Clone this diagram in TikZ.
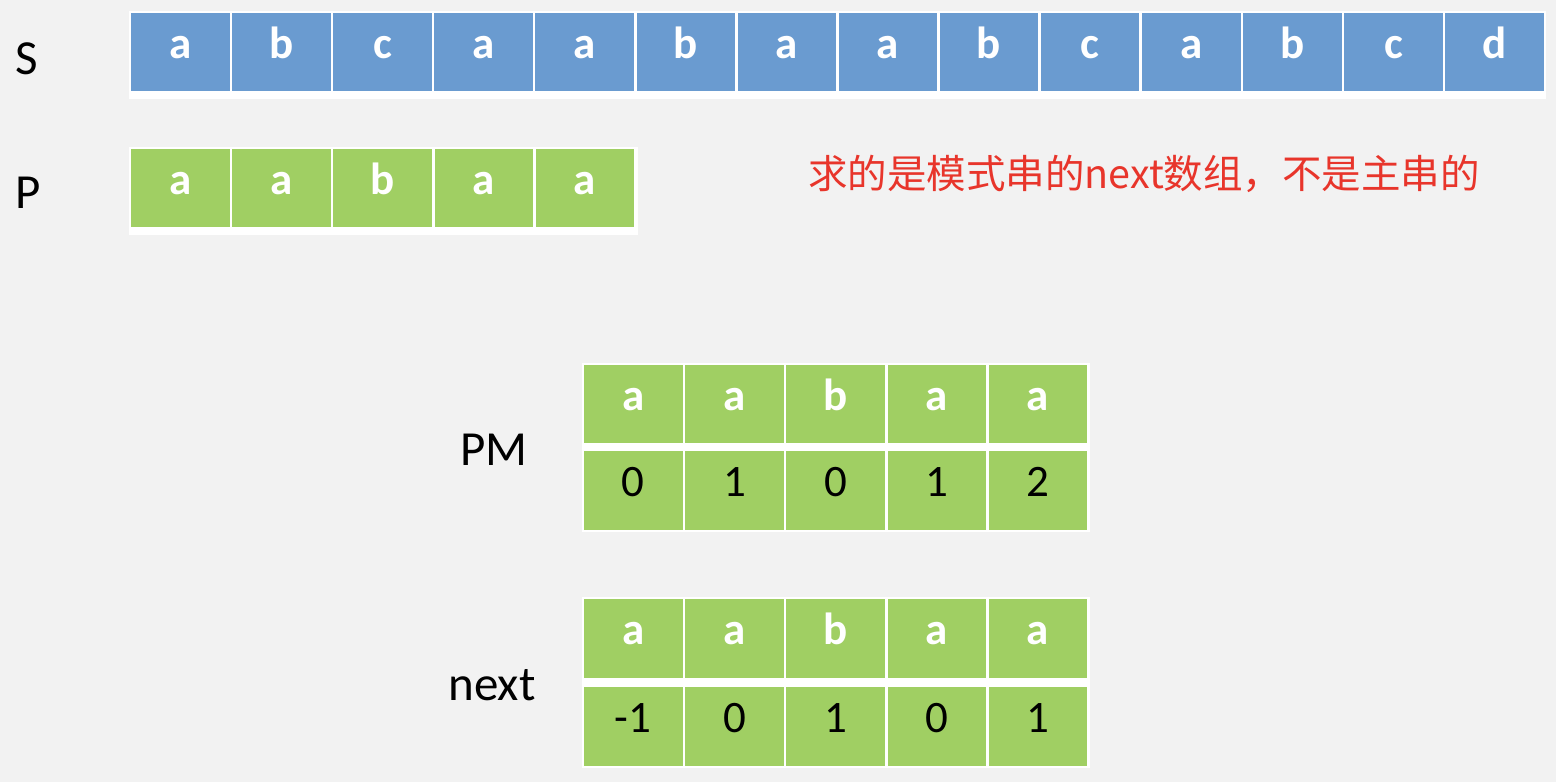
\documentclass[tikz,border=0pt]{standalone}
\usepackage{fontspec}
\setmainfont{Carlito}
\newfontfamily\cjk{Noto Sans CJK SC}
\definecolor{bg}{HTML}{F2F2F2}
\definecolor{sblue}{HTML}{6A9BD0}
\definecolor{pgreen}{HTML}{A0CF63}
\definecolor{redtxt}{HTML}{E8352B}
\begin{document}
\begin{tikzpicture}[x=1pt,y=-1pt,
  cell/.style={rectangle, inner sep=0pt, minimum width=98.5pt, minimum height=78.5pt,
    text height=22pt, text depth=10pt},
  scell/.style={cell, fill=sblue, text=white, font=\fontsize{45}{46}\selectfont\bfseries},
  gcell/.style={cell, fill=pgreen, text=white, font=\fontsize{45}{46}\selectfont\bfseries},
  ncell/.style={cell, fill=pgreen, text=black, font=\fontsize{45}{46}\selectfont},
  lbl/.style={anchor=base, inner sep=0pt, font=\fontsize{49}{50}\selectfont},
  backing/.style={fill=white}]
\useasboundingbox (0,0) rectangle (1556,782);
\fill[bg] (0,0) rectangle (1556,782);
% S row
\fill[backing] (129,11) rectangle (1546,99);
\foreach \c [count=\i] in {a,b,c,a,a,b,a,a,b,c,a,b,c,d}
  \node[scell] (s\i) at ({131+49.25+101.1*(\i-1)},52) {\c};
% P row
\fill[backing] (129,147) rectangle (638,235);
\foreach \c [count=\i] in {a,a,b,a,a}
  \node[gcell] (p\i) at ({131+49.25+101.2*(\i-1)},188) {\c};
% PM table
\fill[backing] (582,363) rectangle (1090,532);
\foreach \c [count=\i] in {a,a,b,a,a}
  \node[gcell] (pma\i) at ({584+49.25+101.2*(\i-1)},404) {\c};
\foreach \c [count=\i] in {0,1,0,1,2}
  \node[ncell] (pmb\i) at ({584+49.25+101.2*(\i-1)},490.5) {\c};
% next table
\fill[backing] (582,597) rectangle (1090,768);
\foreach \c [count=\i] in {a,a,b,a,a}
  \node[gcell] (nxa\i) at ({584+49.25+101.2*(\i-1)},638.5) {\c};
\foreach \c [count=\i] in {-1,0,1,0,1}
  \node[ncell] (nxb\i) at ({584+49.25+101.2*(\i-1)},726.5) {\c};
% labels
\node[lbl] (lS) at (27,74) {S};
\node[lbl] (lP) at (28,208) {P};
\node[lbl] (lPM) at (494,465) {PM};
\node[lbl] (lnext) at (492,700) {next};
\node[anchor=base west, inner sep=0pt, text=redtxt, font=\cjk\fontsize{39.5}{40}\selectfont] (note) at (808,188) {求的是模式串的next数组，不是主串的};
\end{tikzpicture}
\end{document}
